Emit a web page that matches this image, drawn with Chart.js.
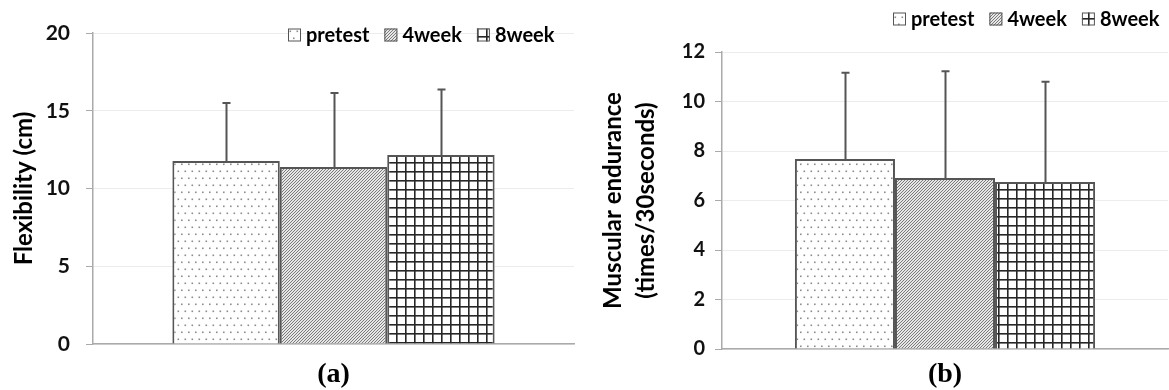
<!DOCTYPE html>
<html>
<head>
<meta charset="utf-8">
<script src="https://cdn.jsdelivr.net/npm/chart.js@4.4.1/dist/chart.umd.min.js"></script>
<style>
  html, body { margin: 0; padding: 0; background: #fff; }
  #wrap { position: relative; width: 1169px; height: 390px; background: #fff; }
  #c1 { position: absolute; left: 0; top: 0; }
  #c2 { position: absolute; left: 584px; top: 0; }
</style>
</head>
<body>
<div id="wrap">
  <canvas id="c1" width="584" height="390"></canvas>
  <canvas id="c2" width="585" height="390"></canvas>
</div>
<script>
// Group label (single group) and series names
const categories = [''];
const seriesNames = ['pretest', '4week', '8week'];

// Panel (a): flexibility, cm (mean and standard deviation)
const flexMean = [11.77, 11.38, 12.15];
const flexSD = [3.73, 4.76, 4.22];
const flexTicks = [0, 5, 10, 15, 20];

// Panel (b): muscular endurance, times / 30 seconds
const endMean = [7.68, 6.91, 6.75];
const endSD = [3.48, 4.31, 4.05];
const endTicks = [0, 2, 4, 6, 8, 10, 12];

// ---- fill patterns for the three series ----
function tile(w, h, draw) {
  const c = document.createElement('canvas');
  c.width = w; c.height = h;
  const g = c.getContext('2d');
  draw(g, w, h);
  return c;
}
const dotTile = tile(7, 14, (g, w, h) => {
  g.fillStyle = '#ffffff'; g.fillRect(0, 0, w, h);
  g.fillStyle = '#8c8c8c';
  g.fillRect(2.5, 2.5, 1.6, 1.6);
  g.fillRect(6, 9.5, 1.6, 1.6);
  g.fillRect(-1, 9.5, 1.6, 1.6);
});
const diagTile = tile(3, 3, (g, w, h) => {
  g.fillStyle = '#e6e6e6'; g.fillRect(0, 0, w, h);
  g.strokeStyle = '#6e6e6e'; g.lineWidth = 0.9;
  g.beginPath();
  g.moveTo(-1, 4); g.lineTo(4, -1);
  g.moveTo(-1, 1); g.lineTo(1, -1);
  g.moveTo(2, 4); g.lineTo(4, 2);
  g.stroke();
});
const gridTile = tile(9, 9, (g, w, h) => {
  g.fillStyle = '#ffffff'; g.fillRect(0, 0, w, h);
  g.fillStyle = '#262626';
  g.fillRect(0, 0, 1.6, h);
  g.fillRect(0, 0, w, 1.6);
});
function patternsFor(ctx) {
  return [dotTile, diagTile, gridTile].map(t => ctx.createPattern(t, 'repeat'));
}

// ---- error bars (upper whisker only) ----
const errorBars = {
  id: 'errorBars',
  afterDatasetsDraw(chart) {
    const ctx = chart.ctx;
    const y = chart.scales.y;
    ctx.save();
    ctx.strokeStyle = '#555';
    ctx.lineWidth = 2;
    chart.data.datasets.forEach((ds, di) => {
      const meta = chart.getDatasetMeta(di);
      meta.data.forEach((bar, i) => {
        const top = y.getPixelForValue(ds.data[i] + ds.sd[i]);
        const x = Math.round(bar.x) + 0.5;
        ctx.beginPath();
        ctx.moveTo(x, bar.y);
        ctx.lineTo(x, top);
        ctx.moveTo(x - 4, top);
        ctx.lineTo(x + 4, top);
        ctx.stroke();
      });
    });
    ctx.restore();
  }
};

// ---- legend with patterned swatches, drawn at a given spot ----
const patternLegend = {
  id: 'patternLegend',
  afterDraw(chart, args, opts) {
    const ctx = chart.ctx;
    ctx.save();
    ctx.font = 'bold ' + opts.size + 'px Lato';
    ctx.textBaseline = 'middle';
    ctx.textAlign = 'left';
    let x = opts.x;
    const cy = opts.y;
    const box = 13;
    chart.data.datasets.forEach(ds => {
      ctx.fillStyle = ds.backgroundColor;
      ctx.fillRect(x, cy - box / 2, box, box);
      ctx.strokeStyle = '#555';
      ctx.lineWidth = 1;
      ctx.strokeRect(x + 0.5, cy - box / 2 + 0.5, box - 1, box - 1);
      ctx.fillStyle = '#000';
      ctx.fillText(ds.label, x + box + 5, cy + 1);
      x += box + 5 + ctx.measureText(ds.label).width + opts.gap;
    });
    ctx.restore();
  }
};

function makeChart(canvas, means, sds, ticks, yTitle, caption, geom) {
  const ctx = canvas.getContext('2d');
  const pats = patternsFor(ctx);
  return new Chart(ctx, {
    type: 'bar',
    data: {
      labels: categories,
      datasets: seriesNames.map((name, i) => ({
        label: name,
        data: [means[i]],
        sd: [sds[i]],
        backgroundColor: pats[i],
        borderColor: '#555',
        borderWidth: 2,
        borderSkipped: 'bottom'
      }))
    },
    options: {
      responsive: false,
      animation: false,
      layout: { padding: geom.padding },
      datasets: { bar: { categoryPercentage: geom.cat, barPercentage: 1 } },
      plugins: {
        legend: { display: false },
        tooltip: { enabled: false },
        patternLegend: geom.legend
      },
      scales: {
        x: {
          grid: { display: false },
          border: { display: true, color: '#aaa', width: 1.5 },
          ticks: { display: false },
          title: {
            display: true, text: caption, color: '#000', padding: 0,
            font: { family: 'Liberation Serif', weight: 'bold', size: 28, lineHeight: 1.1 }
          },
          afterFit(s) { s.height = geom.xh; }
        },
        y: {
          min: ticks[0],
          max: ticks[ticks.length - 1],
          ticks: {
            stepSize: ticks[1] - ticks[0],
            color: '#111',
            padding: geom.tickPad,
            font: { family: 'Lato', weight: 'bold', size: geom.tickSize }
          },
          grid: { color: '#ececec', tickColor: '#aaa', tickLength: 7, lineWidth: 1 },
          border: { color: '#aaa', width: 1.5 },
          title: {
            display: true, text: yTitle, color: '#000', padding: geom.titlePad,
            font: { family: 'Lato', weight: 'bold', size: 24, lineHeight: geom.titleLH }
          },
          afterFit(s) { s.width = geom.yw; }
        }
      }
    },
    plugins: [errorBars, patternLegend]
  });
}

makeChart(document.getElementById('c1'), flexMean, flexSD, flexTicks,
  'Flexibility (cm)', '(a)', {
    padding: { left: 10, top: 33, right: 10, bottom: 0 },
    yw: 83, xh: 46, cat: 0.67, tickPad: 16, tickSize: 21,
    titlePad: 0, titleLH: 1.2,
    legend: { x: 288, y: 35, size: 20, gap: 15 }
  });

makeChart(document.getElementById('c2'), endMean, endSD, endTicks,
  ['Muscular endurance', '(times/30seconds)'], '(b)', {
    padding: { left: 8, top: 52, right: 1, bottom: 0 },
    yw: 130, xh: 41, cat: 0.673, tickPad: 10, tickSize: 20,
    titlePad: 4.5, titleLH: 1.375,
    legend: { x: 309, y: 19, size: 20, gap: 15 }
  });
</script>
</body>
</html>
